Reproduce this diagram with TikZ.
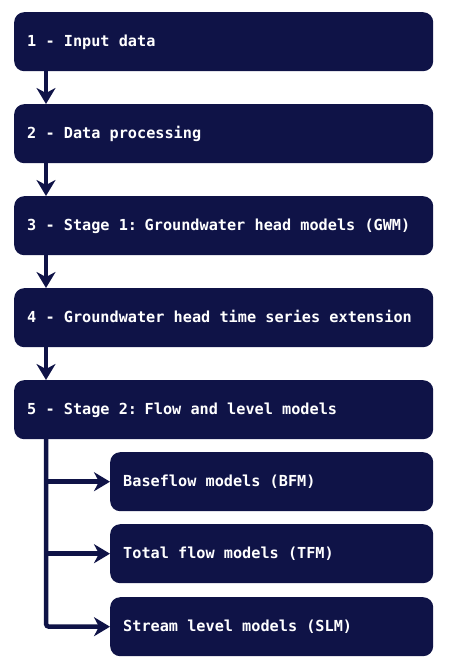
\documentclass[tikz,border=0pt]{standalone}
\usepackage{fontspec}
\newfontfamily\boxfont{DejaVu Sans Mono}
\newcommand\boxstyle{\boxfont\bfseries\fontsize{15.2pt}{18pt}\selectfont}
\usetikzlibrary{arrows.meta}
\definecolor{navy}{HTML}{0F1347}
\tikzset{
  mainbox/.style={fill=navy, rounded corners=10pt, text=white,
    font=\boxstyle, execute at begin node={\spaceskip=9.2pt\relax},
    minimum height=59pt, inner xsep=13pt, inner ysep=0pt, align=left,
    text height=9pt, text depth=0pt, anchor=north west},
  bigbox/.style={mainbox, text width=393pt},
  subbox/.style={mainbox, text width=297pt},
  conn/.style={draw=navy, line width=4.5pt,
    -{Stealth[length=16pt,width=19pt,inset=5pt]}},
}
\begin{document}
\begin{tikzpicture}[x=1pt,y=1pt]
\useasboundingbox (0,0) rectangle (451,-671);
\node[bigbox] (b1) at (14,-12) {1 - Input data};
\node[bigbox] (b2) at (14,-104) {2 - Data processing};
\node[bigbox] (b3) at (14,-196) {3 - Stage 1: Groundwater head models (GWM)};
\node[bigbox] (b4) at (14,-288) {4 - Groundwater head time series extension};
\node[bigbox] (b5) at (14,-380) {5 - Stage 2: Flow and level models};
\node[subbox] (s1) at (110,-452) {Baseflow models (BFM)};
\node[subbox] (s2) at (110,-524) {Total flow models (TFM)};
\node[subbox] (s3) at (110,-597) {Stream level models (SLM)};
\coordinate (t1) at (46,-71);
\coordinate (t2) at (46,-163);
\coordinate (t3) at (46,-255);
\coordinate (t4) at (46,-347);
\coordinate (t5) at (46,-438);
\draw[conn] (t1) -- (t1 |- b2.north);
\draw[conn] (t2) -- (t2 |- b3.north);
\draw[conn] (t3) -- (t3 |- b4.north);
\draw[conn] (t4) -- (t4 |- b5.north);
\draw[conn, rounded corners=3pt] (t5) |- (s3.west);
\draw[conn] (t5 |- s1.west) -- (s1.west);
\draw[conn] (t5 |- s2.west) -- (s2.west);
\end{tikzpicture}
\end{document}
